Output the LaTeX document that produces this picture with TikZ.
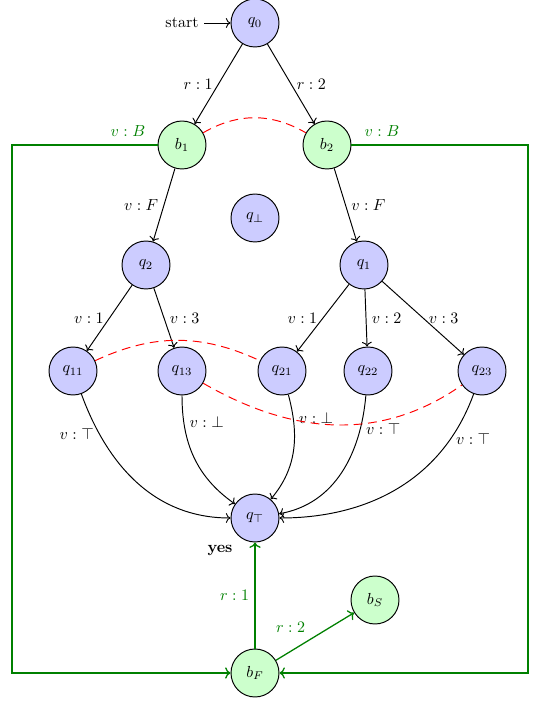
\documentclass[tikz,border=0pt]{standalone}
\usetikzlibrary{arrows.meta}
\begin{document}
\begin{tikzpicture}[x=0.625pt,y=0.625pt,
  qstate/.style={circle,draw,semithick,minimum size=30pt,inner sep=0pt,fill=blue!20},
  bstate/.style={circle,draw,semithick,minimum size=30pt,inner sep=0pt,fill=green!20},
  tr/.style={->,semithick},
  gtr/.style={->,line width=0.8pt,draw=green!50!black},
  glab/.style={text=green!50!black},
  rdash/.style={dash pattern=on 5.5pt off 3.5pt,red,semithick}]
\useasboundingbox (0,0) rectangle (541,702);
% nodes
\node[qstate] (q0) at (255,679) {$q_0$};
\node (start) at (182,679) {start};
\node[bstate] (b1) at (182,557) {$b_1$};
\node[bstate] (b2) at (327,557) {$b_2$};
\node[qstate] (qb) at (255,484) {$q_\bot$};
\node[qstate] (q2) at (146,437) {$q_2$};
\node[qstate] (q1) at (364,437) {$q_1$};
\node[qstate] (q11) at (73,331) {$q_{11}$};
\node[qstate] (q13) at (182,331) {$q_{13}$};
\node[qstate] (q21) at (282,331) {$q_{21}$};
\node[qstate] (q22) at (368,331) {$q_{22}$};
\node[qstate] (q23) at (482,331) {$q_{23}$};
\node[qstate] (qt) at (255,184) {$q_\top$};
\node (yes) at (220,152) {\textbf{yes}};
\node[bstate] (bS) at (375,102) {$b_S$};
\node[bstate] (bF) at (255,29) {$b_F$};
\coordinate (c1) at (12,557);
\coordinate (c2) at (12,29);
\coordinate (c3) at (528,557);
\coordinate (c4) at (528,29);
% black edges
\draw[tr] (start) -- (q0);
\draw[tr] (q0) -- node[left] {$r:1$} (b1);
\draw[tr] (q0) -- node[right] {$r:2$} (b2);
\draw[tr] (b1) -- node[left] {$v:F$} (q2);
\draw[tr] (b2) -- node[right] {$v:F$} (q1);
\draw[tr] (q2) -- node[left] {$v:1$} (q11);
\draw[tr] (q2) -- node[right] {$v:3$} (q13);
\draw[tr] (q1) -- node[left] {$v:1$} (q21);
\draw[tr] (q1) -- node[right] {$v:2$} (q22);
\draw[tr] (q1) -- node[right] {$v:3$} (q23);
\draw[tr] (q11) to[out=-70,in=180] node[pos=0.2,left] {$v:\top$} (qt);
\draw[tr] (q13) to[out=-90,in=145] node[pos=0.2,right] {$v:\bot$} (qt);
\draw[tr] (q21) to[out=-75,in=50] node[pos=0.2,right] {$v:\bot$} (qt);
\draw[tr] (q22) to[out=-95,in=10] node[pos=0.2,right] {$v:\top$} (qt);
\draw[tr] (q23) to[out=-110,in=0] node[pos=0.2,right] {$v:\top$} (qt);
% red dashed
\draw[rdash] (b1) to[out=30,in=150] (b2);
\draw[rdash] (q11) to[out=25,in=155] (q21);
\draw[rdash] (q13) to[out=-30,in=-145] (q23);
% green
\draw[gtr] (b1.west) -- (c1) -- (c2) -- (bF);
\draw[gtr] (b2.east) -- (c3) -- (c4) -- (bF);
\node[glab] (lb1) at (128,571) {$v:B$};
\node[glab] (lb2) at (382,571) {$v:B$};
\draw[gtr] (bF) -- node[left,glab] {$r:1$} (qt);
\draw[gtr] (bF) -- node[above left,glab,pos=0.45] {$r:2$} (bS);
\end{tikzpicture}
\end{document}
